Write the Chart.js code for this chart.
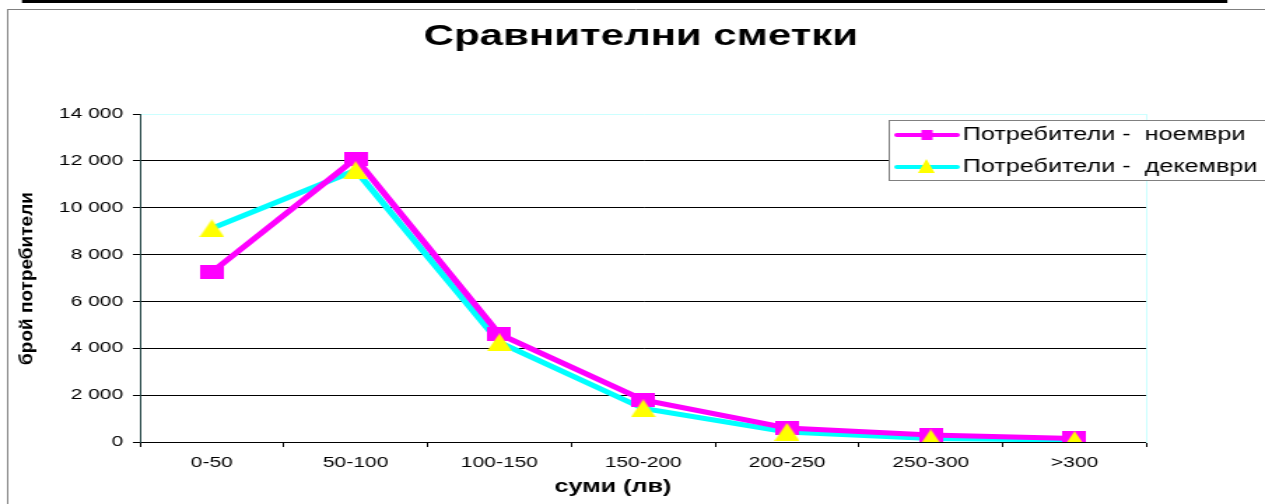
<!DOCTYPE html>
<html>
<head>
<meta charset="utf-8">
<script src="https://cdn.jsdelivr.net/npm/chart.js@4.4.1/dist/chart.umd.min.js"></script>
<style>
    html, body { margin: 0; padding: 0; background: #ffffff; overflow: hidden; }
    /* the reference is a horizontally stretched picture, so stretch the canvas the same way */
    #wrap { width: 904px; height: 504px; transform: scaleX(1.3993); transform-origin: 0 0; }
    #chart { display: block; }
</style>
</head>
<body>
<div id="wrap">
<canvas id="chart" width="904" height="504" style="width:904px;height:504px"></canvas>
</div>
<script>
// Data
const categories = ['0-50', '50-100', '100-150', '150-200', '200-250', '250-300', '>300'];
const novemberValues = [7250, 12100, 4600, 1800, 600, 300, 150];
const decemberValues = [9120, 11600, 4250, 1430, 430, 150, 80];
const seriesLabels = ['Потребители -  ноември', 'Потребители -  декември'];
const yTicks = [0, 2000, 4000, 6000, 8000, 10000, 12000, 14000];

const chartTitle = 'Сравнителни сметки';
const xTitle = 'суми (лв)';
const yTitle = 'брой потребители';

const colors = {
    nov: '#ff00ff',
    dec: '#00ffff',
    tri: '#ffff00',
    grid: '#000000',
    topGrid: '#ccffff'
};

Chart.defaults.font.family = "'Liberation Sans', Arial, sans-serif";
Chart.defaults.color = '#000000';

// Excel style markers as small canvases
function makeSquare(w, h) {
    const c = document.createElement('canvas');
    c.width = w; c.height = h;
    const g = c.getContext('2d');
    g.fillStyle = colors.nov;
    g.fillRect(0, 0, w, h);
    return c;
}

function makeTriangle(w, h) {
    const c = document.createElement('canvas');
    c.width = w; c.height = h;
    const g = c.getContext('2d');
    g.fillStyle = colors.tri;
    g.beginPath();
    g.moveTo(w / 2, 0);
    g.lineTo(w, h);
    g.lineTo(0, h);
    g.closePath();
    g.fill();
    return c;
}

const squareMark = makeSquare(17, 14);
const triangleMark = makeTriangle(18, 18);

function fmt(v) {
    return v >= 1000 ? Math.floor(v / 1000) + ' ' + String(v % 1000).padStart(3, '0') : String(v);
}

// frame, axis titles and legend
const decorations = {
    id: 'decorations',
    beforeDraw(chart) {
        const ctx = chart.ctx;
        ctx.save();
        ctx.fillStyle = '#000000';
        ctx.fillRect(15.7, 0, 861.4, 3);
        ctx.strokeStyle = '#808080';
        ctx.lineWidth = 1;
        ctx.beginPath();
        ctx.moveTo(5, 9.5);
        ctx.lineTo(chart.width, 9.5);
        ctx.moveTo(5.5, 9.5);
        ctx.lineTo(5.5, chart.height);
        ctx.stroke();
        ctx.restore();
    },
    afterDraw(chart) {
        const ctx = chart.ctx;
        const area = chart.chartArea;

        // rotated, narrowed y axis title
        ctx.save();
        ctx.translate(20, (area.top + area.bottom) / 2 + 0.5);
        ctx.rotate(-Math.PI / 2);
        ctx.scale(1, 0.65);
        ctx.font = "bold 19px 'Liberation Sans', Arial, sans-serif";
        ctx.fillStyle = '#000000';
        ctx.textAlign = 'center';
        ctx.textBaseline = 'middle';
        ctx.fillText(yTitle, 0, 0);
        ctx.restore();

        // x axis title sits a bit left of the plot centre in the reference
        ctx.save();
        ctx.font = "bold 18px 'Liberation Sans', Arial, sans-serif";
        ctx.fillStyle = '#000000';
        ctx.textAlign = 'center';
        ctx.textBaseline = 'middle';
        ctx.fillText(xTitle, 438, 487);
        ctx.restore();

        // legend box
        ctx.save();
        ctx.fillStyle = '#ffffff';
        ctx.fillRect(635, 120, 300, 61);
        ctx.strokeStyle = '#808080';
        ctx.lineWidth = 1;
        ctx.strokeRect(635.5, 120.5, 300, 60);

        const rows = [
            { y: 135, line: colors.nov, label: seriesLabels[0], mark: 'square' },
            { y: 167, line: colors.dec, label: seriesLabels[1], mark: 'triangle' }
        ];
        rows.forEach(r => {
            ctx.strokeStyle = r.line;
            ctx.lineWidth = 4;
            ctx.lineCap = 'round';
            ctx.beginPath();
            ctx.moveTo(641, r.y);
            ctx.lineTo(684, r.y);
            ctx.stroke();
            if (r.mark === 'square') {
                ctx.fillStyle = colors.nov;
                ctx.fillRect(658.5, r.y - 5, 8, 10);
            } else {
                ctx.fillStyle = colors.tri;
                ctx.beginPath();
                ctx.moveTo(662, r.y - 8);
                ctx.lineTo(668, r.y + 6);
                ctx.lineTo(656, r.y + 6);
                ctx.closePath();
                ctx.fill();
            }
            ctx.fillStyle = '#000000';
            ctx.font = "18px 'Liberation Sans', Arial, sans-serif";
            ctx.textAlign = 'left';
            ctx.textBaseline = 'middle';
            ctx.fillText(r.label, 688, r.y);
        });
        ctx.restore();
    }
};

new Chart(document.getElementById('chart'), {
    type: 'line',
    data: {
        labels: categories,
        datasets: [
            {
                label: seriesLabels[1],
                data: decemberValues,
                borderColor: colors.dec,
                borderWidth: 5,
                pointRadius: 0,
                fill: false,
                tension: 0,
                order: 4
            },
            {
                label: seriesLabels[0],
                data: novemberValues,
                borderColor: colors.nov,
                borderWidth: 5,
                pointRadius: 0,
                fill: false,
                tension: 0,
                order: 3
            },
            {
                label: seriesLabels[0] + ' marks',
                data: novemberValues,
                showLine: false,
                pointStyle: squareMark,
                pointRadius: 8,
                order: 2
            },
            {
                label: seriesLabels[1] + ' marks',
                data: decemberValues,
                showLine: false,
                pointStyle: triangleMark,
                pointRadius: 8,
                order: 1
            }
        ]
    },
    options: {
        responsive: false,
        animation: false,
        devicePixelRatio: 1,
        layout: {
            padding: { left: 12, right: 0, top: 0, bottom: 0 }
        },
        plugins: {
            legend: { display: false },
            tooltip: { enabled: false },
            title: {
                display: true,
                text: chartTitle,
                font: { size: 30, weight: 'bold' },
                color: '#000000',
                padding: { top: 19, bottom: 59 }
            }
        },
        scales: {
            x: {
                offset: true,
                grid: {
                    offset: true,
                    drawOnChartArea: false,
                    drawTicks: true,
                    tickLength: 5,
                    tickColor: '#000000'
                },
                border: { display: true, color: '#000000', width: 1 },
                ticks: {
                    font: { size: 15 },
                    color: '#000000',
                    padding: 7,
                    maxRotation: 0,
                    autoSkip: false
                },
                afterFit(scale) {
                    scale.height = 62;
                }
            },
            y: {
                min: 0,
                max: 14000,
                afterBuildTicks(scale) {
                    scale.ticks = yTicks.map(v => ({ value: v }));
                },
                grid: {
                    color: c => (c.tick && c.tick.value === 14000 ? colors.topGrid : colors.grid),
                    lineWidth: 1,
                    tickLength: 5,
                    tickColor: '#000000'
                },
                border: { display: true, color: '#224444', width: 1 },
                ticks: {
                    font: { size: 15 },
                    color: '#000000',
                    padding: 7,
                    callback: v => fmt(v)
                },
                afterFit(scale) {
                    scale.width = 88;
                }
            },
            yRight: {
                position: 'right',
                display: true,
                grid: { display: false, drawTicks: false },
                border: { display: true, color: colors.topGrid, width: 1 },
                ticks: { display: false },
                afterFit(scale) {
                    scale.width = 904 - 819.3;
                }
            }
        }
    },
    plugins: [decorations]
});
</script>
</body>
</html>
